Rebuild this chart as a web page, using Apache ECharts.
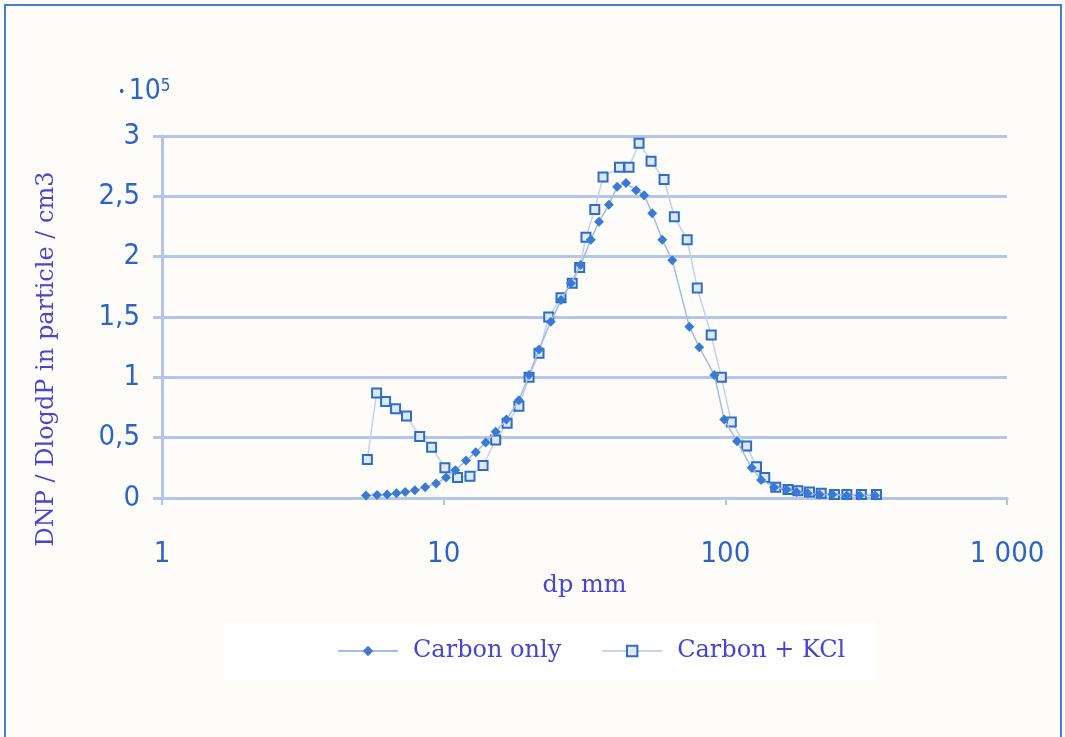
<!DOCTYPE html>
<html>
<head>
<meta charset="utf-8">
<script src="https://cdn.jsdelivr.net/npm/echarts@6/dist/echarts.min.js"></script>
<style>
  html, body { margin: 0; padding: 0; background: #fdfcf9; }
  #chart { width: 1065px; height: 737px; }
</style>
</head>
<body>
<div id="chart"></div>
<script>
// particle diameter (dp) and DNP/DlogdP (in units of 1e5 particles/cm3)
const carbonDp = [5.3, 5.8, 6.3, 6.8, 7.3, 7.9, 8.6, 9.4, 10.2, 11.0, 12.0, 13.0, 14.1, 15.3, 16.7, 18.5, 20.1, 21.8, 24.0, 26.1, 28.3, 30.6, 33.3, 35.6, 38.6, 41.3, 44.4, 48.2, 51.5, 55.0, 59.7, 64.8, 74.5, 80.8, 91.4, 99.1, 110, 124, 134, 149, 165, 179, 196, 216, 240, 270, 300, 340];
const carbonN  = [0.02, 0.025, 0.03, 0.04, 0.05, 0.065, 0.09, 0.12, 0.17, 0.23, 0.31, 0.38, 0.46, 0.55, 0.65, 0.81, 1.02, 1.23, 1.46, 1.64, 1.78, 1.93, 2.14, 2.29, 2.43, 2.58, 2.61, 2.55, 2.51, 2.36, 2.14, 1.97, 1.42, 1.25, 1.02, 0.65, 0.47, 0.25, 0.15, 0.09, 0.07, 0.05, 0.04, 0.03, 0.03, 0.02, 0.02, 0.02];
const kclDp = [5.36, 5.78, 6.22, 6.75, 7.38, 8.22, 9.06, 10.1, 11.2, 12.4, 13.8, 15.3, 16.8, 18.5, 20.1, 21.8, 23.6, 26.1, 28.6, 30.4, 32.0, 34.4, 36.8, 42.1, 45.5, 49.4, 54.5, 60.6, 65.9, 73.2, 79.5, 89.1, 96.8, 105, 119, 129, 138, 151, 167, 181, 199, 219, 244, 270, 304, 344];
const kclN  = [0.32, 0.87, 0.80, 0.74, 0.68, 0.51, 0.42, 0.25, 0.17, 0.18, 0.27, 0.48, 0.62, 0.76, 1.0, 1.2, 1.5, 1.66, 1.78, 1.91, 2.16, 2.39, 2.66, 2.74, 2.74, 2.94, 2.79, 2.64, 2.33, 2.14, 1.74, 1.35, 1.0, 0.63, 0.43, 0.26, 0.17, 0.09, 0.07, 0.06, 0.05, 0.04, 0.03, 0.03, 0.03, 0.03];
const seriesNames = ['Carbon only', 'Carbon + KCl'];
const xTickLabels = {1: '1', 10: '10', 100: '100', 1000: '1 000'};
const yTitle = 'DNP / DlogdP in particle / cm3';
const xTitle = 'dp mm';

const zip = (a, b) => a.map((v, i) => [v, b[i]]);

const tickFont = "'Liberation Sans Narrow', 'DejaVu Sans Condensed', 'Arial Narrow', sans-serif";
const serifFont = "'DejaVu Serif', 'Liberation Serif', serif";
const tickColor = '#2b63c9';
const titleColor = '#4a44cf';
const gridColor = '#b3c5ea';

const chart = echarts.init(document.getElementById('chart'), null, {renderer: 'canvas'});
chart.setOption({
  backgroundColor: '#fdfcf9',
  animation: false,
  grid: {left: 162, right: 58, top: 136, bottom: 239},
  graphic: [
    {type: 'rect', shape: {x: 5, y: 5, width: 1056, height: 745}, style: {fill: 'none', stroke: '#3f80d8', lineWidth: 2}, silent: true, z: -1},
    {type: 'rect', shape: {x: 225, y: 622, width: 650, height: 58}, style: {fill: '#ffffff'}, silent: true, z: -2},
    {type: 'text', x: 118, y: 92, style: {
      text: '{d|•} {b|10}{s|5}', textVerticalAlign: 'middle',
      rich: {
        d: {fontSize: 14, fill: tickColor, fontFamily: tickFont},
        b: {fontSize: 28, fill: tickColor, fontFamily: tickFont},
        s: {fontSize: 17, fill: tickColor, fontFamily: tickFont, verticalAlign: 'top', padding: [0, 0, 10, 0]}
      }
    }},
    {type: 'text', x: 47, y: 359, rotation: Math.PI / 2, style: {
      text: yTitle, fontFamily: serifFont, fontSize: 24, fill: titleColor,
      textAlign: 'center', textVerticalAlign: 'middle'
    }}
  ],
  legend: {
    left: 332, top: 634,
    itemWidth: 60, itemHeight: 13, itemGap: 40,
    textStyle: {fontFamily: serifFont, fontSize: 24, color: titleColor, padding: [0, 0, 0, 10]},
    data: seriesNames
  },
  xAxis: {
    type: 'log', logBase: 10, min: 1, max: 1000,
    name: xTitle, nameLocation: 'middle', nameGap: 76,
    nameTextStyle: {fontFamily: serifFont, fontSize: 24, color: titleColor},
    axisLine: {show: true, onZero: false, lineStyle: {color: gridColor, width: 3}},
    axisTick: {show: true, length: 7, lineStyle: {color: gridColor, width: 2}},
    minorTick: {show: false},
    splitLine: {show: false},
    axisLabel: {
      margin: 42, fontFamily: tickFont, fontSize: 29, color: tickColor,
      formatter: v => xTickLabels[Math.round(v)] || ''
    }
  },
  yAxis: {
    type: 'value', min: 0, max: 3, interval: 0.5,
    axisLine: {show: true, lineStyle: {color: gridColor, width: 3}},
    axisTick: {show: true, length: 9, lineStyle: {color: gridColor, width: 3}},
    splitLine: {show: true, lineStyle: {color: gridColor, width: 3}},
    axisLabel: {
      margin: 22, fontFamily: tickFont, fontSize: 29, color: tickColor,
      formatter: v => String(v).replace('.', ',')
    }
  },
  series: [
    {
      name: seriesNames[0], type: 'line', data: zip(carbonDp, carbonN),
      symbol: 'diamond', symbolSize: 10,
      itemStyle: {color: '#3b7ad2'},
      lineStyle: {color: '#a4bbe8', width: 1.5},
      z: 3
    },
    {
      name: seriesNames[1], type: 'line', data: zip(kclDp, kclN),
      symbol: 'rect', symbolSize: 9,
      itemStyle: {color: '#dfe8f8', borderColor: '#2d6dc8', borderWidth: 2},
      lineStyle: {color: '#c3d2ef', width: 1.5},
      z: 2
    }
  ]
});
</script>
</body>
</html>
